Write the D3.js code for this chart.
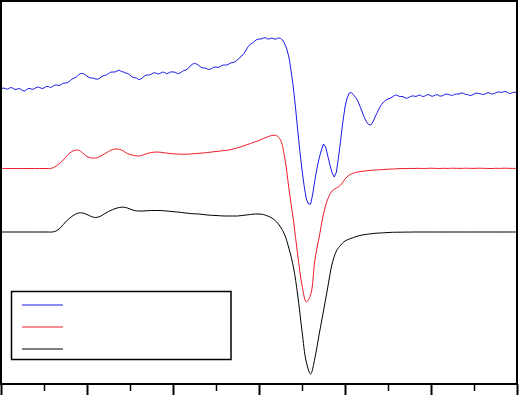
<!DOCTYPE html>
<html><head><meta charset="utf-8">
<script src="https://cdn.jsdelivr.net/npm/d3@7"></script>
<style>html,body{margin:0;padding:0;background:#fff;overflow:hidden}</style>
</head><body>
<svg id="chart" width="520" height="395"></svg>
<script>
// x grids (arbitrary units)
const xValues = d3.range(0, 121).map(i => +(i * 0.1).toFixed(2));       // red, black
const xBlueValues = d3.range(0, 241).map(i => +(i * 0.05).toFixed(2));  // blue (finer, noisy)

const blueValues = [
295,296,295.5,294.8,296,296.5,295,294.5,295.5,295,293.5,293,294.5,295.8,295,294.7,296,297,296.5,295.5,
296,297.5,297.5,296.5,297.5,298.8,299,298.5,299.5,300.8,301,301.5,303,305,306,307,309,310.5,310.5,309.5,
308,306.5,306,305.8,305,304.8,306,307.8,308.5,309,310.5,311.8,312,312,313,313.8,312.5,312,311,310.5,
309,307,306.5,306,304.5,305,306.5,308.5,309,309,310,311.2,311,310,310.5,312,311.5,310.3,311,312.2,
312,311.8,310.5,310.8,312,313.5,314,315.5,318,319.8,320.5,320,318.5,316.8,316,316,315,314.5,315.5,316.8,
317,316.5,317.5,318.8,319,319,320,321.2,321.5,322.5,324,326.5,328,330.5,334,337.5,340,341,343,344.5,
345,345,346,346.3,345,345.2,346,345,345,346.2,345.5,344,340,334.5,326,312,296,276,254,233,
214,198,185,180,180,190,204,216,226,234,240,237,228,219,211,207,212,227,244,262,
277,286,291,291.5,289,286.5,283,277.5,272,266.5,262,259.5,259,262,267,271.5,276,279.5,282,284,
285,285.8,287,288.5,289,287.8,287.5,287.5,286,285.8,287,288,288,287.5,288.5,289,287.5,287.8,289,289.5,
288,287.8,289,289.3,288,288,289,290,289.5,289,288.5,289.8,290,290,291,290.8,289.5,289.5,288.5,288.8,
290,291,290.5,290.2,289.5,289.8,291,291.3,290,290.2,291,292,292,291.5,292.5,292.3,291,290.5,291.5,291.8,
290.5];

const redValues = [215.5,215.5,215.5,215.5,215.5,215.5,215.5,215.5,215.5,215.5,
215.5,215.5,216,218.5,222,226.5,231,233.5,233.8,231,
227.5,226,226,227.5,230,232.5,234.5,235,234,231.5,
229.5,228.5,228,229,230.5,231.5,232,231.8,231.2,230.7,
230.2,230,229.8,229.8,230,230.3,230.7,231,231.5,232,
232.5,233,233.5,234,235,236.2,237.5,239,240.5,242,
243.5,245.5,247.2,248.5,248.5,244,226,194,164,129,
99,82,89,124,147,170,185,193,196,199,
205,209,211,212,212.7,213.2,213.7,214,214.2,214.5,
214.8,215,215.2,215.5,215.4,215.6,215.5,215.7,215.5,215.6,
215.8,215.6,215.5,215.7,215.6,215.8,215.7,215.6,215.8,215.7,
215.6,215.8,215.7,215.6,215.5,215.7,215.6,215.8,215.7,215.6,215.6];

const blackValues = [152,152,152,152,152,152,152,152,152,152,
152,152,152,153.5,157,162,166,169,171,171,
169.5,167.5,166.5,167.5,170,172.5,174.5,176,176.8,176.5,
175,173.5,173,173,173.3,173.5,173.5,173.5,173.2,172.8,
172.3,172,171.5,171,170.5,170.2,170,169.5,169,168.7,
168.5,168.2,168,168,168,168,168.5,169,169.5,170,
170,169.5,168,166,162.5,157,149,135,117,89,
53,22,10,26,50,73,97,120,133,139,
143,145,146.5,148,149,149.7,150.2,150.7,151,151.2,
151.5,151.7,151.8,151.8,151.9,151.9,152,152,152,152,
152,152,152,152,152,152,152,152,152,152,
152,152,152,152,152,152,152,152,152,152,152];

const seriesNames = ["blue", "red", "black"];
const seriesColors = ["#1a1ae6", "#ee1c2a", "#000000"];

const majorTicks = [0, 2, 4, 6, 8, 10, 12];
const minorTicks = [1, 3, 5, 7, 9, 11];

const svg = d3.select("#chart");
const x = d3.scaleLinear().domain([0, 12]).range([1, 517]);
const y = d3.scaleLinear().domain([0, 383]).range([384, 1]);

svg.append("defs").append("clipPath").attr("id", "clip")
  .append("rect").attr("x", 1).attr("y", 1).attr("width", 516).attr("height", 383);

const smooth = d3.line()
  .x(d => x(d[0])).y(d => y(d[1]))
  .curve(d3.curveCatmullRom.alpha(0.5));
const jagged = d3.line()
  .x(d => x(d[0])).y(d => y(d[1]));

const plot = svg.append("g").attr("clip-path", "url(#clip)");
const series = [
  {pts: xBlueValues.map((v, i) => [v, blueValues[i]]), gen: jagged},
  {pts: xValues.map((v, i) => [v, redValues[i]]), gen: smooth},
  {pts: xValues.map((v, i) => [v, blackValues[i]]), gen: smooth}
];
series.forEach((s, k) => {
  plot.append("path").datum(s.pts)
    .attr("d", s.gen)
    .attr("fill", "none")
    .attr("stroke", seriesColors[k])
    .attr("stroke-width", 1);
});

// axes
svg.append("g").attr("transform", "translate(0,384)")
  .call(d3.axisBottom(x).tickValues(majorTicks).tickSize(11).tickFormat(""))
  .call(g => g.select(".domain").remove())
  .call(g => g.selectAll("line").attr("stroke", "#000").attr("stroke-width", 2));
svg.append("g").attr("transform", "translate(0,384)")
  .call(d3.axisBottom(x).tickValues(minorTicks).tickSize(7).tickFormat(""))
  .call(g => g.select(".domain").remove())
  .call(g => g.selectAll("line").attr("stroke", "#000").attr("stroke-width", 1.5));

// frame
svg.append("rect").attr("x", 1).attr("y", 1).attr("width", 516).attr("height", 383)
  .attr("fill", "none").attr("stroke", "#000").attr("stroke-width", 2);

// legend
const legend = svg.append("g");
legend.append("rect").attr("x", 11.5).attr("y", 291.5).attr("width", 219.5).attr("height", 68)
  .attr("fill", "#fff").attr("stroke", "#000").attr("stroke-width", 1.5);
seriesNames.forEach((n, k) => {
  legend.append("line")
    .attr("x1", 22).attr("x2", 63)
    .attr("y1", 305 + k * 22).attr("y2", 305 + k * 22)
    .attr("stroke", seriesColors[k]).attr("stroke-width", 1.2);
});
</script>
</body></html>
